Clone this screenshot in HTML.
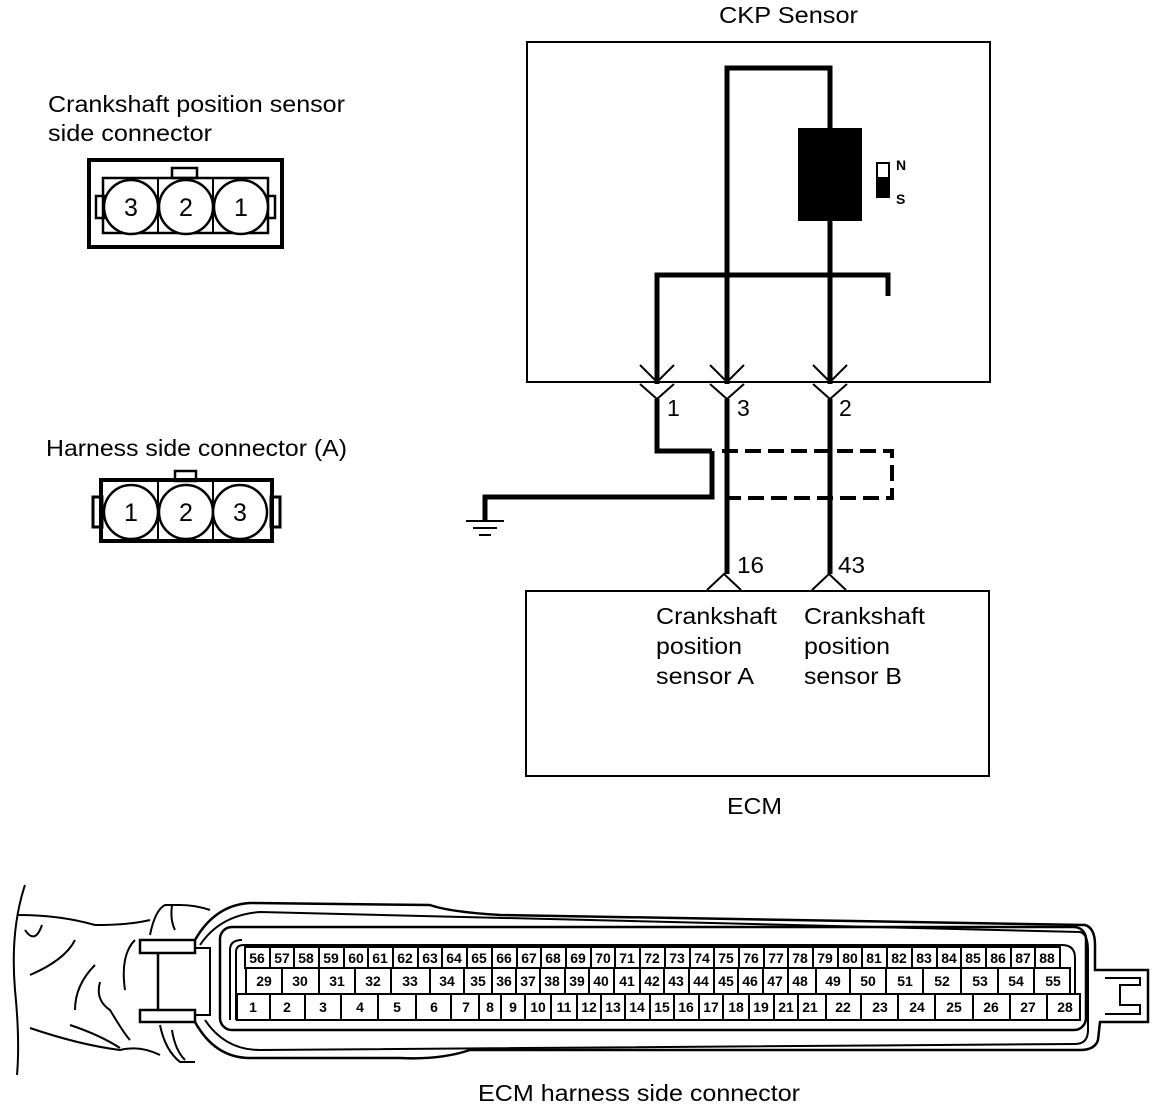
<!DOCTYPE html>
<html><head><meta charset="utf-8"><style>
html,body{margin:0;padding:0;background:#fff;}
svg{display:block;}
text{font-family:"Liberation Sans",Arial,sans-serif;fill:#000;}
.c text{font-size:14px;font-weight:bold;text-anchor:middle;}
.c rect{fill:#fff;stroke:#000;stroke-width:2;}
</style></head><body>
<svg width="1168" height="1108" viewBox="0 0 1168 1108" xmlns="http://www.w3.org/2000/svg">
<text x="48" y="112" font-size="23" textLength="297" lengthAdjust="spacingAndGlyphs">Crankshaft position sensor</text>
<text x="48" y="141" font-size="23" textLength="164" lengthAdjust="spacingAndGlyphs">side connector</text>
<text x="46" y="456" font-size="23" textLength="301" lengthAdjust="spacingAndGlyphs">Harness side connector (A)</text>

<g fill="none" stroke="#000">
<rect x="89" y="160" width="193" height="87" stroke-width="4"/>
<rect x="172" y="168" width="25" height="10" stroke-width="2.5" fill="#fff"/>
<rect x="96" y="196" width="8" height="22" stroke-width="2.5"/>
<rect x="267" y="196" width="8" height="22" stroke-width="2.5"/>
<rect x="103" y="178" width="165" height="55" stroke-width="2.5"/>
<line x1="158" y1="178" x2="158" y2="233" stroke-width="2"/>
<line x1="213" y1="178" x2="213" y2="233" stroke-width="2"/>
<circle cx="131" cy="207" r="27" stroke-width="2.5" fill="#fff"/>
<circle cx="186" cy="207" r="27" stroke-width="2.5" fill="#fff"/>
<circle cx="241" cy="207" r="27" stroke-width="2.5" fill="#fff"/>
</g>
<text x="131" y="216" font-size="25" text-anchor="middle">3</text>
<text x="186" y="216" font-size="25" text-anchor="middle">2</text>
<text x="241" y="216" font-size="25" text-anchor="middle">1</text>

<g fill="none" stroke="#000">
<rect x="175" y="471" width="21" height="10" stroke-width="2.5" fill="#fff"/>
<rect x="93" y="497" width="9" height="30" stroke-width="3"/>
<rect x="271" y="497" width="9" height="30" stroke-width="3"/>
<rect x="101" y="480" width="171" height="61" stroke-width="4"/>
<line x1="158" y1="482" x2="158" y2="539" stroke-width="2"/>
<line x1="213" y1="482" x2="213" y2="539" stroke-width="2"/>
<circle cx="131" cy="512" r="27" stroke-width="2.5" fill="#fff"/>
<circle cx="186" cy="512" r="27" stroke-width="2.5" fill="#fff"/>
<circle cx="240" cy="512" r="27" stroke-width="2.5" fill="#fff"/>
</g>
<text x="131" y="521" font-size="25" text-anchor="middle">1</text>
<text x="186" y="521" font-size="25" text-anchor="middle">2</text>
<text x="240" y="521" font-size="25" text-anchor="middle">3</text>

<text x="719" y="23" font-size="23" textLength="139" lengthAdjust="spacingAndGlyphs">CKP Sensor</text>
<rect x="527" y="42" width="463" height="340" fill="none" stroke="#000" stroke-width="2"/>
<g fill="none" stroke="#000" stroke-width="5">
<polyline points="727,384 727,68 830,68 830,130"/>
<line x1="830" y1="218" x2="830" y2="384"/>
<polyline points="657,384 657,275 888,275 888,296"/>
</g>
<rect x="798" y="128" width="64" height="93" fill="#000"/>
<rect x="877" y="163" width="12" height="15" fill="#fff" stroke="#000" stroke-width="2"/>
<rect x="876" y="178" width="14" height="20" fill="#000"/>
<text x="896" y="170" font-size="14" font-weight="bold">N</text>
<text x="896" y="204" font-size="14" font-weight="bold">S</text>

<g fill="none" stroke="#000" stroke-width="2">
<polyline points="640,365 657,382 674,365"/>
<polyline points="710,365 727,382 744,365"/>
<polyline points="813,365 830,382 847,365"/>
<polyline points="640,384 657,399 674,384"/>
<polyline points="710,384 727,399 744,384"/>
<polyline points="813,384 830,399 847,384"/>
<polyline points="707,590 724,574 741,590"/>
<polyline points="812,590 829,574 846,590"/>
</g>
<text x="667" y="416" font-size="23">1</text>
<text x="737" y="416" font-size="23">3</text>
<text x="839" y="416" font-size="23">2</text>

<g fill="none" stroke="#000" stroke-width="5">
<polyline points="657,399 657,451 712,451"/>
<line x1="727" y1="399" x2="727" y2="574"/>
<line x1="830" y1="399" x2="830" y2="574"/>
<polyline points="712,451 712,497 485,497 485,520"/>
</g>
<g fill="none" stroke="#000" stroke-width="4" stroke-dasharray="16,7">
<polyline points="722,451 892,451 892,498 722,498"/>
</g>
<g stroke="#000" stroke-width="2">
<line x1="466" y1="521" x2="504" y2="521"/>
<line x1="473" y1="528" x2="497" y2="528"/>
<line x1="479" y1="535" x2="491" y2="535"/>
</g>
<text x="737" y="573" font-size="23" textLength="27" lengthAdjust="spacingAndGlyphs">16</text>
<text x="838" y="573" font-size="23" textLength="27" lengthAdjust="spacingAndGlyphs">43</text>

<rect x="526" y="591" width="463" height="185" fill="none" stroke="#000" stroke-width="2"/>
<text x="656" y="624" font-size="23" textLength="121" lengthAdjust="spacingAndGlyphs">Crankshaft</text>
<text x="656" y="654" font-size="23" textLength="86" lengthAdjust="spacingAndGlyphs">position</text>
<text x="656" y="684" font-size="23" textLength="98" lengthAdjust="spacingAndGlyphs">sensor A</text>
<text x="804" y="624" font-size="23" textLength="121" lengthAdjust="spacingAndGlyphs">Crankshaft</text>
<text x="804" y="654" font-size="23" textLength="86" lengthAdjust="spacingAndGlyphs">position</text>
<text x="804" y="684" font-size="23" textLength="98" lengthAdjust="spacingAndGlyphs">sensor B</text>
<text x="727" y="814" font-size="23" textLength="55" lengthAdjust="spacingAndGlyphs">ECM</text>

<g fill="none" stroke="#000" stroke-width="2">
<path d="M25,885 Q10,930 15,990 Q20,1040 17,1075"/>
<path d="M18,915 Q60,915 95,925 Q130,925 150,920"/>
<path d="M30,1028 Q80,1045 120,1050 Q140,1045 160,1055"/>
<path d="M25,930 Q35,945 42,925"/>
<path d="M75,940 Q65,960 30,975"/>
<path d="M95,965 Q75,985 75,1010"/>
<path d="M135,940 Q120,955 125,990"/>
<path d="M100,982 Q95,1000 110,1010 Q125,1035 130,1040"/>
<path d="M70,1025 Q100,1035 120,1048"/>
<path d="M150,935 Q155,910 165,905 L180,905 Q195,905 210,910"/>
<path d="M172,905 Q170,920 175,930"/>
<path d="M160,1025 Q165,1050 180,1062 L195,1062"/>
<path d="M172,1030 Q175,1050 185,1060"/>
<rect x="140" y="940" width="55" height="13" fill="#fff" stroke-width="2.5"/>
<rect x="140" y="1010" width="55" height="12" fill="#fff" stroke-width="2.5"/>
<line x1="158" y1="953" x2="158" y2="1010" stroke-width="2.5"/>
<path d="M195,948 L210,948 L210,1015 L195,1015"/>
<path d="M195,940 Q215,905 250,903 L430,905 Q450,912 500,915 L1085,925 Q1095,928 1095,945 L1095,970 L1105,970 L1148,970 L1148,1022 L1105,1022 L1100,1022 L1098,1040 Q1095,1050 1080,1050 L470,1050 Q440,1060 400,1058 L250,1058 Q215,1058 195,1022" stroke-width="2.5"/>
<path d="M200,945 Q220,915 260,912 L1080,932 Q1088,934 1088,950 L1088,1030 Q1088,1044 1075,1044 L260,1050 Q225,1050 205,1020"/>
<path d="M1105,978 L1140,978 L1140,985 L1120,985 L1120,1005 L1140,1005 L1140,1014 L1105,1014"/>
<rect x="220" y="927" width="866" height="103" rx="12" stroke-width="2.5"/>
<path d="M236,1020 L236,952 Q236,945 244,945 L1062,945 Q1075,945 1075,958 L1075,994"/>
<path d="M230,1020 L230,950 Q230,940 242,940"/>
</g>

<g class="c">
<rect x="245" y="947" width="25" height="21"/><text x="257" y="963">56</text>
<rect x="270" y="947" width="24" height="21"/><text x="282" y="963">57</text>
<rect x="294" y="947" width="25" height="21"/><text x="306" y="963">58</text>
<rect x="319" y="947" width="25" height="21"/><text x="331" y="963">59</text>
<rect x="344" y="947" width="24" height="21"/><text x="356" y="963">60</text>
<rect x="368" y="947" width="25" height="21"/><text x="380" y="963">61</text>
<rect x="393" y="947" width="25" height="21"/><text x="405" y="963">62</text>
<rect x="418" y="947" width="24" height="21"/><text x="430" y="963">63</text>
<rect x="442" y="947" width="25" height="21"/><text x="454" y="963">64</text>
<rect x="467" y="947" width="25" height="21"/><text x="479" y="963">65</text>
<rect x="492" y="947" width="25" height="21"/><text x="504" y="963">66</text>
<rect x="517" y="947" width="24" height="21"/><text x="529" y="963">67</text>
<rect x="541" y="947" width="25" height="21"/><text x="553" y="963">68</text>
<rect x="566" y="947" width="25" height="21"/><text x="578" y="963">69</text>
<rect x="591" y="947" width="24" height="21"/><text x="603" y="963">70</text>
<rect x="615" y="947" width="25" height="21"/><text x="627" y="963">71</text>
<rect x="640" y="947" width="25" height="21"/><text x="652" y="963">72</text>
<rect x="665" y="947" width="25" height="21"/><text x="677" y="963">73</text>
<rect x="690" y="947" width="24" height="21"/><text x="702" y="963">74</text>
<rect x="714" y="947" width="25" height="21"/><text x="726" y="963">75</text>
<rect x="739" y="947" width="25" height="21"/><text x="751" y="963">76</text>
<rect x="764" y="947" width="24" height="21"/><text x="776" y="963">77</text>
<rect x="788" y="947" width="25" height="21"/><text x="800" y="963">78</text>
<rect x="813" y="947" width="25" height="21"/><text x="825" y="963">79</text>
<rect x="838" y="947" width="24" height="21"/><text x="850" y="963">80</text>
<rect x="862" y="947" width="25" height="21"/><text x="874" y="963">81</text>
<rect x="887" y="947" width="25" height="21"/><text x="899" y="963">82</text>
<rect x="912" y="947" width="25" height="21"/><text x="924" y="963">83</text>
<rect x="937" y="947" width="24" height="21"/><text x="949" y="963">84</text>
<rect x="961" y="947" width="25" height="21"/><text x="973" y="963">85</text>
<rect x="986" y="947" width="25" height="21"/><text x="998" y="963">86</text>
<rect x="1011" y="947" width="24" height="21"/><text x="1023" y="963">87</text>
<rect x="1035" y="947" width="25" height="21"/><text x="1047" y="963">88</text>
<rect x="246" y="968" width="36" height="26"/><text x="264" y="986">29</text>
<rect x="282" y="968" width="37" height="26"/><text x="300" y="986">30</text>
<rect x="319" y="968" width="36" height="26"/><text x="337" y="986">31</text>
<rect x="355" y="968" width="36" height="26"/><text x="373" y="986">32</text>
<rect x="391" y="968" width="39" height="26"/><text x="410" y="986">33</text>
<rect x="430" y="968" width="34" height="26"/><text x="447" y="986">34</text>
<rect x="464" y="968" width="28" height="26"/><text x="478" y="986">35</text>
<rect x="492" y="968" width="24" height="26"/><text x="504" y="986">36</text>
<rect x="516" y="968" width="24" height="26"/><text x="528" y="986">37</text>
<rect x="540" y="968" width="25" height="26"/><text x="552" y="986">38</text>
<rect x="565" y="968" width="24" height="26"/><text x="577" y="986">39</text>
<rect x="589" y="968" width="25" height="26"/><text x="601" y="986">40</text>
<rect x="614" y="968" width="26" height="26"/><text x="627" y="986">41</text>
<rect x="640" y="968" width="24" height="26"/><text x="652" y="986">42</text>
<rect x="664" y="968" width="25" height="26"/><text x="676" y="986">43</text>
<rect x="689" y="968" width="25" height="26"/><text x="701" y="986">44</text>
<rect x="714" y="968" width="24" height="26"/><text x="726" y="986">45</text>
<rect x="738" y="968" width="25" height="26"/><text x="750" y="986">46</text>
<rect x="763" y="968" width="25" height="26"/><text x="775" y="986">47</text>
<rect x="788" y="968" width="28" height="26"/><text x="800" y="986">48</text>
<rect x="816" y="968" width="34" height="26"/><text x="833" y="986">49</text>
<rect x="850" y="968" width="36" height="26"/><text x="868" y="986">50</text>
<rect x="886" y="968" width="37" height="26"/><text x="905" y="986">51</text>
<rect x="923" y="968" width="38" height="26"/><text x="942" y="986">52</text>
<rect x="961" y="968" width="37" height="26"/><text x="980" y="986">53</text>
<rect x="998" y="968" width="36" height="26"/><text x="1016" y="986">54</text>
<rect x="1034" y="968" width="36" height="26"/><text x="1053" y="986">55</text>
<rect x="237" y="994" width="33" height="26"/><text x="253" y="1012">1</text>
<rect x="270" y="994" width="35" height="26"/><text x="287" y="1012">2</text>
<rect x="305" y="994" width="36" height="26"/><text x="323" y="1012">3</text>
<rect x="341" y="994" width="37" height="26"/><text x="360" y="1012">4</text>
<rect x="378" y="994" width="38" height="26"/><text x="397" y="1012">5</text>
<rect x="416" y="994" width="35" height="26"/><text x="434" y="1012">6</text>
<rect x="451" y="994" width="28" height="26"/><text x="466" y="1012">7</text>
<rect x="479" y="994" width="22" height="26"/><text x="490" y="1012">8</text>
<rect x="501" y="994" width="24" height="26"/><text x="513" y="1012">9</text>
<rect x="525" y="994" width="26" height="26"/><text x="538" y="1012">10</text>
<rect x="551" y="994" width="26" height="26"/><text x="564" y="1012">11</text>
<rect x="577" y="994" width="24" height="26"/><text x="589" y="1012">12</text>
<rect x="601" y="994" width="24" height="26"/><text x="613" y="1012">13</text>
<rect x="625" y="994" width="25" height="26"/><text x="637" y="1012">14</text>
<rect x="650" y="994" width="24" height="26"/><text x="662" y="1012">15</text>
<rect x="674" y="994" width="25" height="26"/><text x="686" y="1012">16</text>
<rect x="699" y="994" width="24" height="26"/><text x="711" y="1012">17</text>
<rect x="723" y="994" width="26" height="26"/><text x="736" y="1012">18</text>
<rect x="749" y="994" width="25" height="26"/><text x="761" y="1012">19</text>
<rect x="774" y="994" width="24" height="26"/><text x="786" y="1012">21</text>
<rect x="798" y="994" width="28" height="26"/><text x="810" y="1012">21</text>
<rect x="826" y="994" width="35" height="26"/><text x="843" y="1012">22</text>
<rect x="861" y="994" width="37" height="26"/><text x="880" y="1012">23</text>
<rect x="898" y="994" width="37" height="26"/><text x="917" y="1012">24</text>
<rect x="935" y="994" width="38" height="26"/><text x="954" y="1012">25</text>
<rect x="973" y="994" width="37" height="26"/><text x="991" y="1012">26</text>
<rect x="1010" y="994" width="37" height="26"/><text x="1028" y="1012">27</text>
<rect x="1047" y="994" width="33" height="26"/><text x="1065" y="1012">28</text>
</g>

<text x="478" y="1101" font-size="23" textLength="322" lengthAdjust="spacingAndGlyphs">ECM harness side connector</text>
</svg>
</body></html>
